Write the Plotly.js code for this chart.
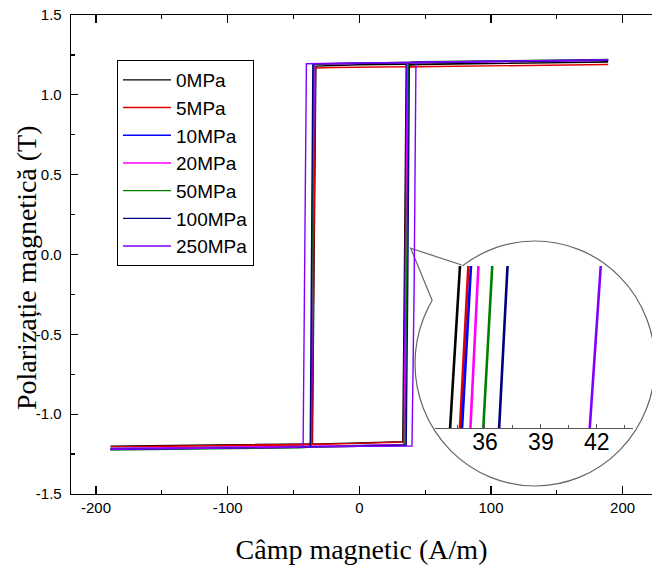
<!DOCTYPE html>
<html>
<head>
<meta charset="utf-8">
<script src="https://cdn.plot.ly/plotly-3.0.1.min.js"></script>
<style>html,body{margin:0;padding:0;background:#fff;}#chart{width:652px;height:577px;}</style>
</head>
<body>
<div id="chart"></div>
<script>
// Series names (stress levels)
const seriesNames = ["0MPa", "5MPa", "10MPa", "20MPa", "50MPa", "100MPa", "250MPa"];

// Magnetic field H (A/m) and polarization J (T) for each loop:
// descending branch (+189 -> -189) followed by ascending branch (-189 -> +189)
const H_0MPa   = [189,160,120,80,40,0,-20,-33.0,-35.6,-45,-80,-120,-160,-189,  -189,-150,-110,-70,-30,0,20,33.0,34.13,34.66,35.6,45,80,120,160,189];
const J_0MPa   = [1.205,1.203,1.200,1.196,1.192,1.188,1.184,1.180,-1.186,-1.188,-1.191,-1.194,-1.197,-1.200,  -1.200,-1.198,-1.195,-1.190,-1.186,-1.181,-1.177,-1.172,-0.22,0.22,1.185,1.190,1.195,1.199,1.202,1.205];

const H_5MPa   = [189,160,120,80,40,0,-20,-33.3,-35.9,-45,-80,-120,-160,-189,  -189,-150,-110,-70,-30,0,20,33.5,34.66,35.11,36.0,45,80,120,160,189];
const J_5MPa   = [1.190,1.188,1.185,1.182,1.178,1.174,1.171,1.168,-1.190,-1.193,-1.196,-1.199,-1.202,-1.205,  -1.205,-1.202,-1.198,-1.193,-1.188,-1.183,-1.178,-1.174,-0.22,0.22,1.172,1.176,1.180,1.184,1.187,1.190];

const H_10MPa  = [189,160,120,80,40,0,-20,-34.3,-36.5,-45,-80,-120,-160,-189,  -189,-150,-110,-70,-30,0,20,33.6,34.77,35.25,36.1,45,80,120,160,189];
const J_10MPa  = [1.218,1.215,1.211,1.207,1.203,1.199,1.196,1.193,-1.200,-1.203,-1.206,-1.209,-1.212,-1.215,  -1.215,-1.212,-1.208,-1.204,-1.200,-1.196,-1.193,-1.190,-0.22,0.22,1.200,1.204,1.208,1.212,1.215,1.218];

const H_20MPa  = [189,160,120,80,40,0,-20,-34.5,-36.7,-45,-80,-120,-160,-189,  -189,-150,-110,-70,-30,0,20,34.0,35.22,35.66,36.6,45,80,120,160,189];
const J_20MPa  = [1.216,1.214,1.210,1.206,1.202,1.198,1.195,1.192,-1.202,-1.205,-1.208,-1.211,-1.213,-1.216,  -1.216,-1.213,-1.209,-1.205,-1.201,-1.197,-1.194,-1.191,-0.22,0.22,1.199,1.203,1.207,1.211,1.214,1.216];

const H_50MPa  = [189,160,120,80,40,0,-20,-34.8,-36.9,-45,-80,-120,-160,-189,  -189,-150,-110,-70,-30,0,20,34.7,35.91,36.39,37.3,45,80,120,160,189];
const J_50MPa  = [1.222,1.219,1.214,1.209,1.204,1.200,1.196,1.193,-1.206,-1.210,-1.214,-1.218,-1.222,-1.225,  -1.225,-1.221,-1.216,-1.211,-1.206,-1.201,-1.197,-1.194,-0.22,0.22,1.203,1.207,1.211,1.215,1.219,1.222];

const H_100MPa = [189,160,120,80,40,0,-20,-35.3,-37.3,-45,-80,-120,-160,-189,  -189,-150,-110,-70,-30,0,20,35.6,36.76,37.21,38.0,45,80,120,160,189];
const J_100MPa = [1.217,1.214,1.210,1.206,1.202,1.199,1.196,1.194,-1.205,-1.208,-1.211,-1.214,-1.217,-1.220,  -1.220,-1.217,-1.213,-1.209,-1.205,-1.201,-1.198,-1.195,-0.22,0.22,1.202,1.205,1.209,1.212,1.215,1.217];

const H_250MPa = [189,160,120,80,40,0,-20,-40.2,-42.7,-50,-80,-120,-160,-189,  -189,-150,-110,-70,-30,0,20,40.0,41.62,42.21,43.0,50,80,120,160,189];
const J_250MPa = [1.220,1.217,1.213,1.208,1.204,1.200,1.197,1.195,-1.205,-1.208,-1.211,-1.214,-1.217,-1.220,  -1.220,-1.217,-1.213,-1.209,-1.205,-1.201,-1.199,-1.199,-0.22,0.22,1.203,1.206,1.210,1.213,1.217,1.220];

// Tick labels
const mainXTicks = [-200, -100, 0, 100, 200];
const mainYTicks = [-1.5, -1.0, -0.5, 0.0, 0.5, 1.0, 1.5];
const insetXTicks = [36, 39, 42];

const colors = ["#000000", "#e00000", "#0000ff", "#ff00ff", "#008000", "#000080", "#8000ff"];

const Hs = [H_0MPa, H_5MPa, H_10MPa, H_20MPa, H_50MPa, H_100MPa, H_250MPa];
const Js = [J_0MPa, J_5MPa, J_10MPa, J_20MPa, J_50MPa, J_100MPa, J_250MPa];

// Pixel -> paper helpers (plot area: x 71..652, y 15..494)
const L = 71, R = 652, T = 15, B = 494;
const px = x => (x - L) / (R - L);
const py = y => (B - y) / (B - T);

const traces = [];
for (let i = 0; i < seriesNames.length; i++) {
  traces.push({
    x: Hs[i], y: Js[i], type: 'scatter', mode: 'lines', name: seriesNames[i],
    line: {color: colors[i], width: 1.4},
    legendgroup: 'g' + i, xaxis: 'x', yaxis: 'y'
  });
}
for (let i = 0; i < seriesNames.length; i++) {
  traces.push({
    x: Hs[i], y: Js[i], type: 'scatter', mode: 'lines', name: seriesNames[i],
    line: {color: colors[i], width: 2.6}, showlegend: false,
    xaxis: 'x2', yaxis: 'y2', hoverinfo: 'skip'
  });
}

const tickFont = {family: 'Arial, "Liberation Sans", sans-serif', size: 15, color: '#000'};
const titleFont = {family: '"Times New Roman", "Liberation Serif", serif', size: 28, color: '#000'};

const layout = {
  width: 652, height: 577,
  margin: {l: L, r: 652 - R, t: T, b: 577 - B, pad: 0},
  paper_bgcolor: '#ffffff',
  plot_bgcolor: 'rgba(0,0,0,0)',
  showlegend: true,
  legend: {
    x: px(117), y: py(60), xanchor: 'left', yanchor: 'top',
    bordercolor: '#000', borderwidth: 1, bgcolor: '#fff',
    font: {family: 'Arial, "Liberation Sans", sans-serif', size: 19, color: '#000'},
    tracegroupgap: 1, traceorder: 'normal', itemwidth: 48
  },
  xaxis: {
    range: [-219, 222.3], domain: [0, 1],
    tickvals: mainXTicks, ticktext: mainXTicks.map(String),
    ticks: 'inside', ticklen: 8, tickwidth: 1.2, tickcolor: '#000',
    minor: {dtick: 50, ticks: 'inside', ticklen: 4, tickwidth: 1.2, tickcolor: '#000', showgrid: false},
    showline: true, linecolor: '#000', linewidth: 1.3, mirror: 'ticks',
    showgrid: false, zeroline: false, tickfont: tickFont,
    title: {text: 'Câmp magnetic (A/m)', font: titleFont, standoff: 24}
  },
  yaxis: {
    range: [-1.5, 1.5], domain: [0, 1],
    tickvals: mainYTicks, ticktext: mainYTicks.map(v => v.toFixed(1)),
    ticks: 'inside', ticklen: 7, tickwidth: 1.2, tickcolor: '#000',
    minor: {dtick: 0.25, ticks: 'inside', ticklen: 4, tickwidth: 1.2, tickcolor: '#000', showgrid: false},
    showline: true, linecolor: '#000', linewidth: 1.3, ticklabelstandoff: 5,
    showgrid: false, zeroline: false, tickfont: tickFont
  },
  xaxis2: {
    anchor: 'y2', domain: [px(435), px(633)], range: [33.32, 43.94],
    tickvals: insetXTicks, ticktext: insetXTicks.map(String),
    ticks: 'inside', ticklen: 4, tickwidth: 1, tickcolor: '#555',
    minor: {dtick: 1.5, tick0: 34.5, ticks: 'inside', ticklen: 3, tickwidth: 1, tickcolor: '#555'},
    showline: true, linecolor: '#555', linewidth: 1, ticklabelstandoff: -7,
    showgrid: false, zeroline: false,
    tickfont: {family: 'Arial, "Liberation Sans", sans-serif', size: 23, color: '#000'}
  },
  yaxis2: {
    anchor: 'x2', domain: [py(428), py(266)], range: [-0.22, 0.22],
    visible: false, showgrid: false, zeroline: false
  },
  annotations: [
    {text: 'Polarizație magnetică (T)', xref: 'paper', yref: 'paper',
     x: px(26), y: py(268), xanchor: 'center', yanchor: 'middle',
     textangle: -90, showarrow: false, font: titleFont}
  ],
  shapes: [
    {type: 'circle', xref: 'paper', yref: 'paper', layer: 'below',
     x0: px(415), x1: px(655), y0: py(486), y1: py(241),
     fillcolor: '#ffffff', line: {color: '#666', width: 1.2}},
    {type: 'path', xref: 'paper', yref: 'paper', layer: 'below',
     path: `M ${px(410.7)} ${py(248.3)} L ${px(432.3)} ${py(300.7)} L ${px(434.9)} ${py(302.3)} L ${px(450)} ${py(285.6)} L ${px(463.5)} ${py(267.4)} L ${px(461.7)} ${py(265)} Z`,
     fillcolor: '#ffffff', line: {width: 0}},
    {type: 'path', xref: 'paper', yref: 'paper', layer: 'below',
     path: `M ${px(432.3)} ${py(300.7)} L ${px(410.7)} ${py(248.3)} L ${px(461.7)} ${py(265)}`,
     line: {color: '#666', width: 1.2}}
  ]
};

Plotly.newPlot('chart', traces, layout, {displayModeBar: false, staticPlot: true});
</script>
</body>
</html>
